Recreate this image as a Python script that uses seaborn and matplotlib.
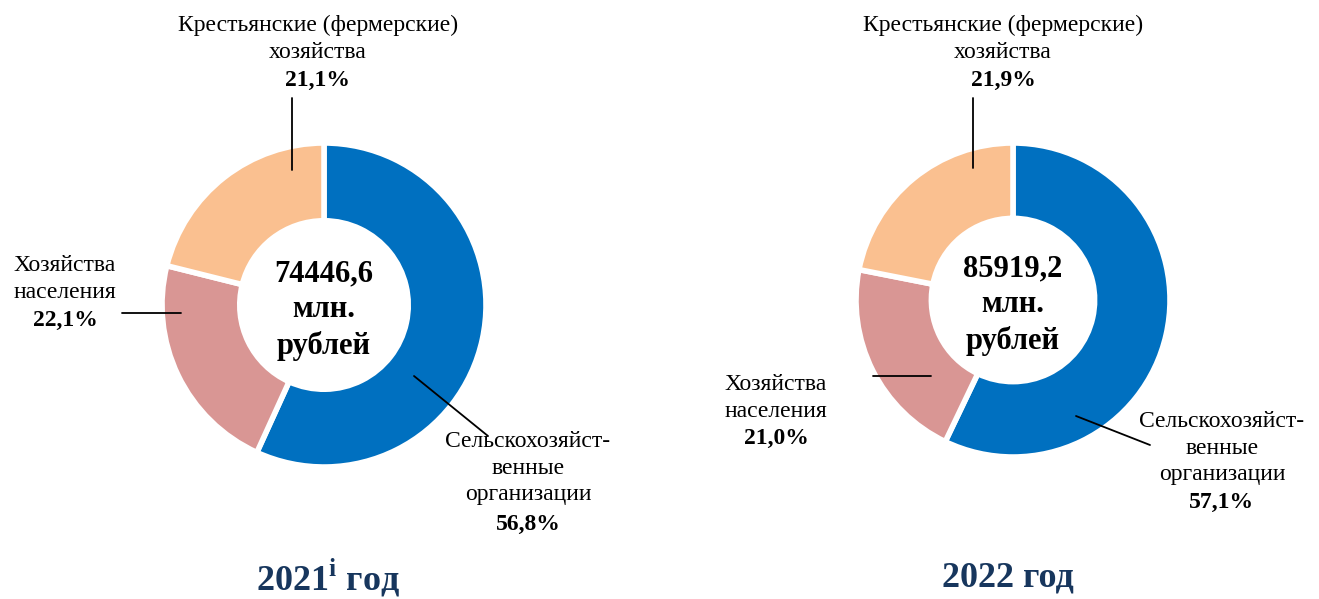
import matplotlib.pyplot as plt
import seaborn as sns

# structure of agricultural production by type of producer, %
categories = ["Сельскохозяйст-\nвенные\nорганизации", "Хозяйства\nнаселения",
              "Крестьянские (фермерские)\nхозяйства"]
shares_2021 = [56.8, 22.1, 21.1]
shares_2022 = [57.1, 21.0, 21.9]
totals = ["74446,6", "85919,2"]
years = [r"2021$^{\mathbf{i}}$ год", "2022 год"]
colors = ["#0070C0", "#D99694", "#FAC090"]

sns.set_theme(style="white")
plt.rcParams["font.family"] = ["Liberation Serif", "DejaVu Serif"]
plt.rcParams["text.color"] = "black"
plt.rcParams["mathtext.fontset"] = "custom"
plt.rcParams["mathtext.rm"] = "Liberation Serif"
plt.rcParams["mathtext.bf"] = "Liberation Serif:bold"

W, H = 1319, 599
fig = plt.figure(figsize=(W / 100, H / 100), dpi=100)
ax = fig.add_axes([0, 0, 1, 1])


def fmt(v):
    return f"{v:.1f}%".replace(".", ",")


def donut(cx, cy, r, shares, total):
    # y axis is inverted later, so counterclock=True reads clockwise
    ax.pie(shares, colors=colors, startangle=-90, counterclock=True,
           center=(cx, cy), radius=r, frame=True,
           wedgeprops=dict(width=r * 0.48, edgecolor="white", linewidth=4))
    ax.text(cx, cy + 5, f"{total}\nмлн.\nрублей", ha="center", va="center",
            fontsize=22, fontweight="bold", linespacing=1.3)


donut(324, 305, 162, shares_2021, totals[0])
donut(1013, 300, 157, shares_2022, totals[1])
ax.set_xlim(0, W)
ax.set_ylim(H, 0)
ax.set_aspect("equal")
ax.axis("off")

label_kw = dict(ha="center", va="center", fontsize=17, linespacing=1.33)
pct_kw = dict(ha="center", va="center", fontsize=17, fontweight="bold")
line_kw = dict(color="black", lw=1.3)

# 2021 labels
ax.text(318, 39, categories[2], **label_kw)
ax.text(318, 80, fmt(shares_2021[2]), **pct_kw)
ax.plot([292, 292], [98, 170], **line_kw)

ax.text(65, 279, categories[1], **label_kw)
ax.text(65, 320, fmt(shares_2021[1]), **pct_kw)
ax.plot([122, 181], [313, 313], **line_kw)

ax.text(528, 468, categories[0], **label_kw)
ax.text(528, 524, fmt(shares_2021[0]), **pct_kw)
ax.plot([414, 488], [376, 436], **line_kw)

# 2022 labels
ax.text(1003, 39, categories[2], **label_kw)
ax.text(1003, 80, fmt(shares_2022[2]), **pct_kw)
ax.plot([973, 973], [98, 168], **line_kw)

ax.text(776, 398, categories[1], **label_kw)
ax.text(776, 438, fmt(shares_2022[1]), **pct_kw)
ax.plot([873, 931], [376, 376], **line_kw)

ax.text(1222, 448, categories[0], **label_kw)
ax.text(1222, 502, fmt(shares_2022[0]), **pct_kw)
ax.plot([1076, 1150], [416, 445], **line_kw)

# year captions
ax.text(328, 578, years[0], ha="center", va="center", fontsize=26,
        fontweight="bold", color="#17365D")
ax.text(1008, 578, years[1], ha="center", va="center", fontsize=26,
        fontweight="bold", color="#17365D")

fig.savefig("out.png", dpi=100)
